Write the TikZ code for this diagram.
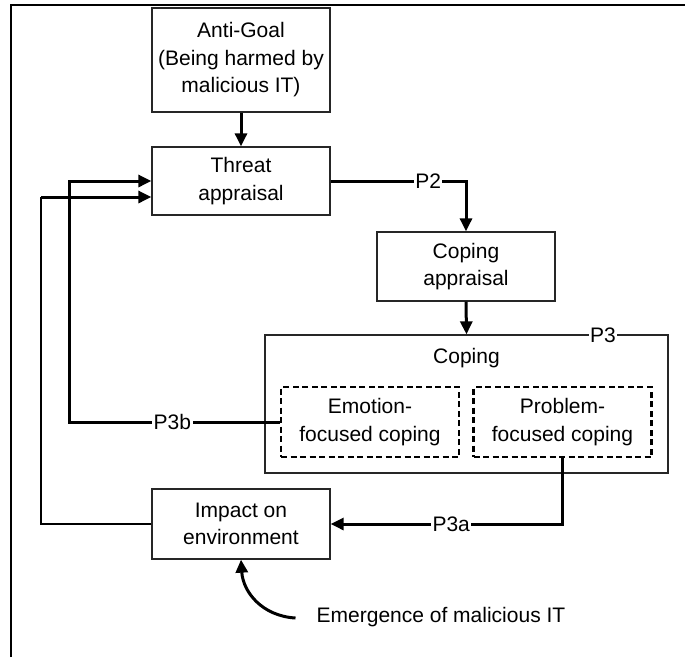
\documentclass[tikz,border=0pt]{standalone}
\usepackage{fontspec}
\setmainfont{Liberation Sans}
\usetikzlibrary{arrows.meta,calc}
\begin{document}
\begin{tikzpicture}[x=1pt,y=-1pt,
  every node/.style={font=\fontsize{21}{27.5}\selectfont},
  box/.style={draw=black!85,line width=1.3pt,align=center,inner sep=0pt,
              minimum width=178pt,minimum height=68pt},
  dbox/.style={draw=black,line width=2.3pt,dash pattern=on 6pt off 3.5pt,
               align=center,inner sep=0pt,minimum width=178pt,minimum height=70pt},
  conn/.style={line width=3pt,-{Triangle[length=13pt,width=12pt]}},
  thin link/.style={line width=1.3pt},
  lbl/.style={fill=white,inner sep=1.5pt}]
\useasboundingbox (0,0) rectangle (685,657);

% frame
\draw[line width=2.6pt] (11,657) -- (11,5) -- (685,5);

% boxes
\node[box,minimum height=104pt] (anti) at (241,60) {Anti-Goal\\(Being harmed by\\malicious IT)};
\node[box] (threat) at (241,181) {Threat\\appraisal};
\node[box,minimum height=69pt] (capp) at (466,266.5) {Coping\\appraisal};
\node[draw=black!85,line width=1.3pt,minimum width=403pt,minimum height=138pt,inner sep=0pt] (coping) at (466.5,404) {};
\node (copingtitle) at (466.5,358) {Coping};
\node[dbox] (emo) at (370,422) {Emotion-\\focused coping};
\node[dbox] (prob) at (562.5,422) {Problem-\\focused coping};
\node[box,minimum height=70pt] (impact) at (241,524) {Impact on\\environment};
\node[inner xsep=0pt] (emerg) at (441,617) {Emergence of malicious IT};

% label on the coping frame
\node[lbl] (p3) at (603,335) {P3};

% connectors
\draw[conn] (anti.south) -- (threat.north);
\draw[conn] (threat.east) -| node[lbl,pos=0.36] {P2} (capp.north);
\draw[conn] (capp.south) -- (coping.north);

\coordinate (fbE) at (69,422);
\draw[conn] (emo.west) -- node[lbl,pos=0.51] {P3b} (fbE) |- (threat.west);

\draw[conn] (prob.south) |- node[lbl,pos=0.74] {P3a} (impact.east);

\coordinate (fbI) at (41,524);
\coordinate (fbT) at (41,197);
\draw[thin link] (impact.west) -- (fbI) -- (fbT);
\draw[conn] (fbT) -- ($(threat.west)+(0,16)$);

\coordinate (emStart) at ($(emerg.west)+(-21,1)$);
\draw[conn] (emStart) .. controls (262,616) and (243,592) .. (impact.south);
\end{tikzpicture}
\end{document}
